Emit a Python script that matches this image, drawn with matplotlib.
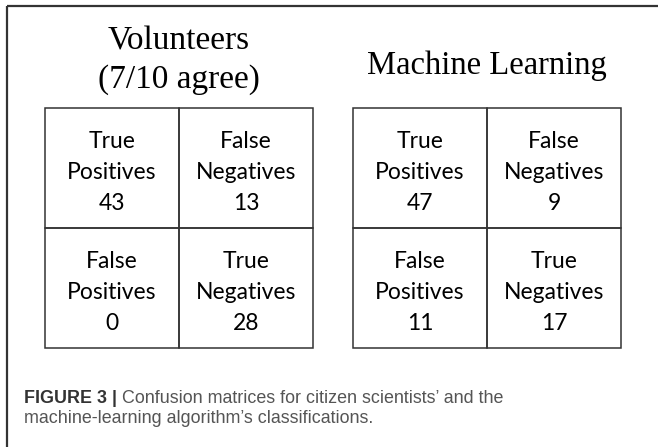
import matplotlib
matplotlib.use("Agg")
import matplotlib.pyplot as plt
from matplotlib.patches import Rectangle

# donnees
titres = ["Volunteers\n(7/10 agree)", "Machine Learning"]
etiquettes = [["True\nPositives", "False\nNegatives"],
              ["False\nPositives", "True\nNegatives"]]
volontaires = [[43, 13], [0, 28]]
apprentissage = [[47, 9], [11, 17]]
legende_gras = "FIGURE 3 |"
legende = ["Confusion matrices for citizen scientists\u2019 and the",
           "machine-learning algorithm\u2019s classifications."]

W, H = 658, 447
fig = plt.figure(figsize=(W / 100, H / 100), dpi=100)
ax = fig.add_axes([0, 0, 1, 1])
ax.set_xlim(0, W)
ax.set_ylim(H, 0)
ax.axis("off")

TRAIT = "#333333"
SERIF = "Liberation Serif"
CELL_FONT = "Lato"

# cadre (haut + gauche)
ax.plot([7, W], [6, 6], color=TRAIT, lw=1.6, solid_capstyle="butt")
ax.plot([7, 7], [6, H], color=TRAIT, lw=1.6, solid_capstyle="butt")

gauches = [45, 353]
cw, ch = 134, 120
haut = 108
for g, matrice, titre in zip(gauches, [volontaires, apprentissage], titres):
    cx = g + cw
    if "\n" in titre:
        l1, l2 = titre.split("\n")
        ax.text(cx, 50, l1, ha="center", va="baseline", fontsize=24,
                family=SERIF, color="#000000")
        ax.text(cx, 88, l2, ha="center", va="baseline", fontsize=24,
                family=SERIF, color="#000000")
    else:
        ax.text(cx, 74, titre, ha="center", va="baseline", fontsize=23.5,
                family=SERIF, color="#000000")
    for i in range(2):
        for j in range(2):
            x0 = g + j * cw
            y0 = haut + i * ch
            ax.add_patch(Rectangle((x0, y0), cw, ch, fill=False,
                                   edgecolor=TRAIT, lw=1.1))
            lignes = etiquettes[i][j].split("\n") + [str(matrice[i][j])]
            for txt, dy in zip(lignes, [40, 71, 102]):
                ax.text(x0 + cw / 2, y0 + dy, txt, ha="center", va="baseline",
                        fontsize=16.5, family=CELL_FONT, color="#000000")

# legende
t = ax.text(24, 403, legende_gras, ha="left", va="baseline", fontsize=12.9,
            family="Liberation Sans", weight="bold", color="#333333")
fig.canvas.draw()
bb = t.get_window_extent(fig.canvas.get_renderer())
x_suite = bb.x1 + 5
ax.text(x_suite, 403, legende[0], ha="left", va="baseline", fontsize=12.9,
        family="Liberation Sans", color="#555555")
ax.text(24, 423, legende[1], ha="left", va="baseline", fontsize=12.9,
        family="Liberation Sans", color="#555555")

fig.savefig("out.png", dpi=100)
